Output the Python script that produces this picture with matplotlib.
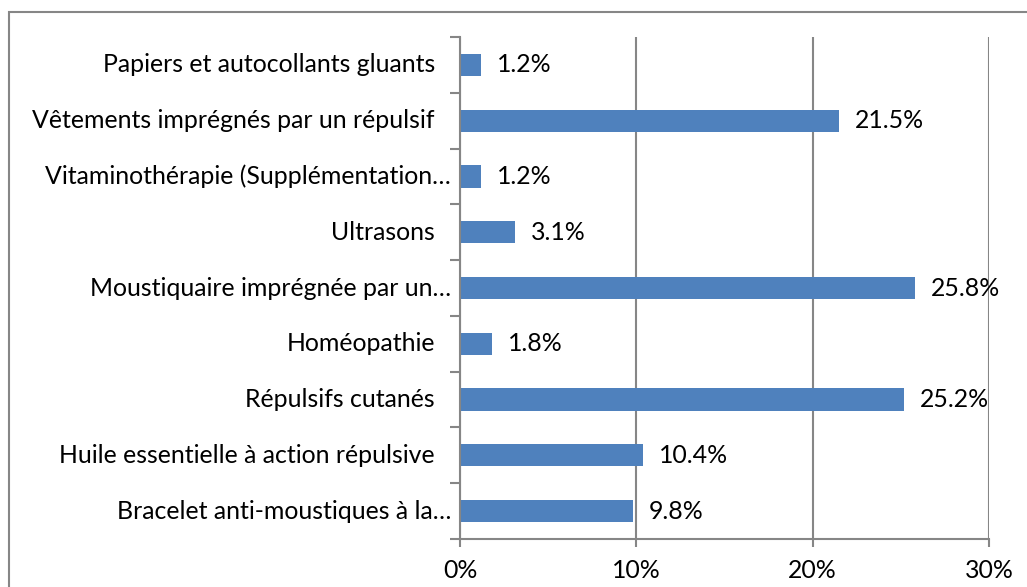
import matplotlib
matplotlib.use("Agg")
import matplotlib.pyplot as plt
from matplotlib.patches import Rectangle
from matplotlib.ticker import FixedLocator, PercentFormatter

categories = [
    "Papiers et autocollants gluants",
    "Vêtements imprégnés par un répulsif",
    "Vitaminothérapie (Supplémentation…",
    "Ultrasons",
    "Moustiquaire imprégnée par un…",
    "Homéopathie",
    "Répulsifs cutanés",
    "Huile essentielle à action répulsive",
    "Bracelet anti-moustiques à la…",
]
values = [1.2, 21.5, 1.2, 3.1, 25.8, 1.8, 25.2, 10.4, 9.8]
x_ticks = [0, 10, 20, 30]

FONT = "Lato"
FS = 17.9
GRAY = "#868686"
BLUE = "#4F81BD"

W, H = 1027, 587
fig = plt.figure(figsize=(W / 100, H / 100), dpi=100)
ax = fig.add_axes([460 / W, 1 - 539 / H, (989 - 460) / W, (539 - 37) / H])

ypos = list(range(len(categories)))
ax.barh(ypos, values, height=0.4, color=BLUE, zorder=3)

ax.set_xlim(0, 30)
ax.set_ylim(len(categories) - 0.5, -0.5)

ax.xaxis.set_major_locator(FixedLocator(x_ticks))
ax.xaxis.set_major_formatter(PercentFormatter(decimals=0))
ax.grid(axis="x", color=GRAY, linewidth=1.5, zorder=1)
ax.tick_params(axis="x", direction="out", length=6, width=1.5, color=GRAY,
               pad=8.5, labelsize=FS, labelcolor="black")
for lab in ax.get_xticklabels():
    lab.set_fontfamily(FONT)

bounds = [i - 0.5 for i in range(len(categories) + 1)]
ax.yaxis.set_major_locator(FixedLocator(bounds))
ax.set_yticklabels([])
ax.tick_params(axis="y", direction="out", length=7, width=1.5, color=GRAY)

for s in ["top", "right"]:
    ax.spines[s].set_visible(False)
for s in ["left", "bottom"]:
    ax.spines[s].set_color(GRAY)
    ax.spines[s].set_linewidth(1.5)
    ax.spines[s].set_zorder(4)

for y, name in zip(ypos, categories):
    off = -9 if name.endswith("…") else -25
    ax.annotate(name, xy=(0, y), xycoords=("axes fraction", "data"),
                xytext=(off, 0), textcoords="offset pixels",
                ha="right", va="center", fontsize=FS, fontfamily=FONT,
                color="black")

for y, v in zip(ypos, values):
    ax.annotate(f"{v:.1f}%", xy=(v, y), xytext=(16, 0),
                textcoords="offset pixels", ha="left", va="center",
                fontsize=FS, fontfamily=FONT, color="black", zorder=5,
                annotation_clip=False)

border = Rectangle((9 / W, -0.1), 1.2, 1 - 12 / H + 0.1, transform=fig.transFigure,
                   fill=False, edgecolor=GRAY, linewidth=1.5, clip_on=False)
fig.patches.append(border)

fig.savefig("out.png", dpi=100)
